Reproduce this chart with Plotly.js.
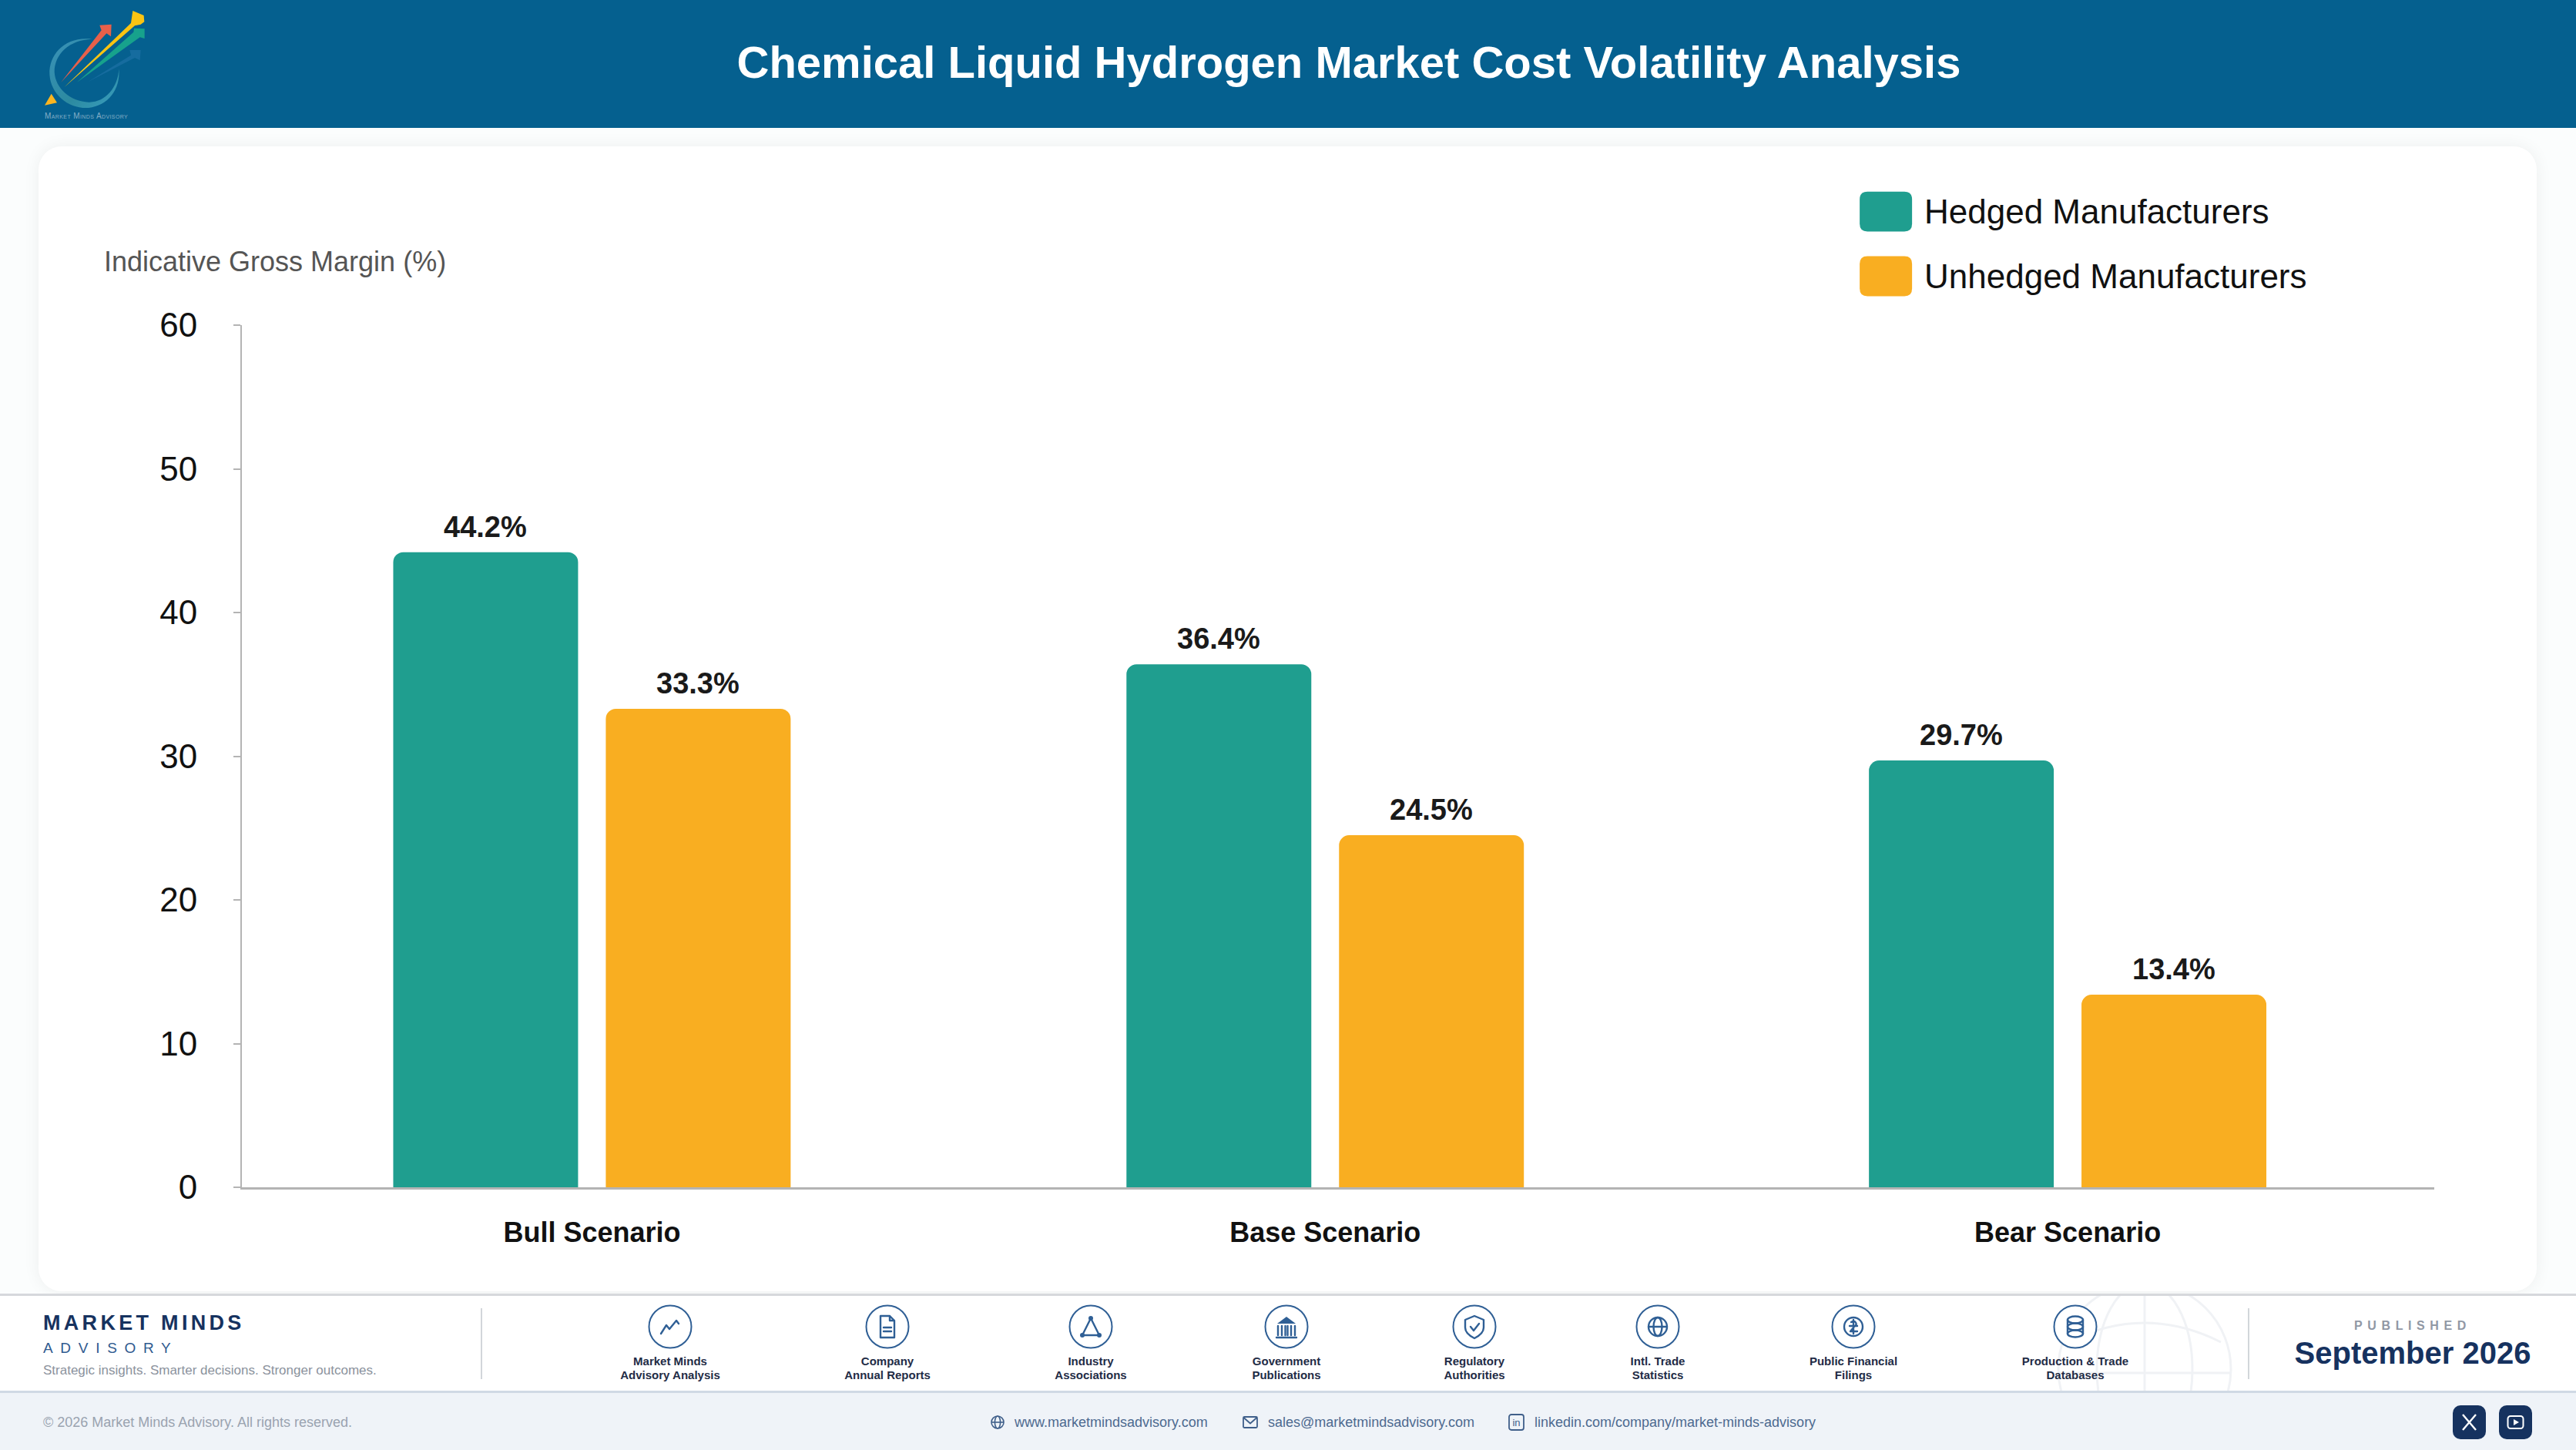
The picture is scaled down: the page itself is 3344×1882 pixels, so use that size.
<!DOCTYPE html>
<html>
<head>
<meta charset="utf-8">
<script src="https://cdn.plot.ly/plotly-3.0.1.min.js"></script>
<style>
html,body{margin:0;padding:0;width:3344px;height:1882px;overflow:hidden;background:#fbfdfd;font-family:"Liberation Sans",Arial,sans-serif;}
#page{position:relative;width:3344px;height:1882px;overflow:hidden;}
.abs{position:absolute;}
#header{left:0;top:0;width:3344px;height:166px;background:#05608f;}
#card{left:50px;top:190px;width:3243px;height:1486px;background:#fff;border-radius:30px;box-shadow:0 0 22px rgba(0,0,0,0.06);}
#footTop{left:0;top:1679px;width:3344px;height:127px;background:#fff;border-top:3px solid #d6d8dc;box-sizing:border-box;}
#footBot{left:0;top:1805px;width:3344px;height:77px;background:#eff3f8;border-top:3px solid #d0d9e4;box-sizing:border-box;}
#chart{left:0;top:0;width:3344px;height:1882px;z-index:2;}
.txt{position:absolute;white-space:nowrap;z-index:3;line-height:1;}
.ctr{transform:translateX(-50%);text-align:center;}
.vr{position:absolute;width:2px;background:#d2d6da;top:1698px;height:92px;z-index:3;}
svg.ic{position:absolute;z-index:3;overflow:visible;}
</style>
</head>
<body>
<div id="page">
  <div class="abs" id="header"></div>
  <div class="abs" id="card"></div>
  <div class="abs" id="footTop"></div>
  <div class="abs" id="footBot"></div>
  <svg style="position:absolute;left:2560px;top:1682px;z-index:1;overflow:hidden" width="450" height="123" viewBox="0 0 450 123" fill="none" stroke="#f0f2f5" stroke-width="3">
    <circle cx="224" cy="95" r="112"/><ellipse cx="224" cy="95" rx="62" ry="112"/><line x1="224" y1="-17" x2="224" y2="123"/>
    <line x1="112" y1="100" x2="336" y2="100"/><path d="M125 60 Q224 10 323 60"/>
  </svg>
  <svg class="ic" style="left:0;top:0" width="240" height="180" viewBox="0 0 720 540">
    <defs><linearGradient id="rg" x1="0" y1="0" x2="1" y2="1"><stop offset="0" stop-color="#3a92b8"/><stop offset="0.6" stop-color="#2c8aa0"/><stop offset="1" stop-color="#3a9fc0"/></linearGradient></defs>
    <path d="M358 152 C255 140 190 210 193 290 C198 370 270 425 345 420 C420 412 470 350 463 268 C460 340 410 400 345 398 C275 396 215 345 212 280 C212 210 270 155 358 152 Z" fill="url(#rg)"/>
    <polygon points="238,320 395,118 388,98 434,95 432,142 415,130" fill="#e8604a"/>
    <polygon points="250,340 510,90 517,42 560,60 562,85 548,95 525,100" fill="#fbc412"/>
    <polygon points="300,320 520,125 522,110 563,112 563,150 545,145" fill="#17a28c"/>
    <polygon points="340,320 510,215 505,195 548,195 545,235 525,225" fill="#1a6fa3" opacity="0.8"/>
    <polygon points="200,365 222,400 174,410" fill="#fbb520"/>
  </svg>
  <div class="txt" style="left:58px;top:146px;font-size:10px;color:#84aec6;font-variant:small-caps;letter-spacing:0.4px;">Market Minds Advisory</div>

  <div class="txt" style="left:56px;top:1704px;font-size:27px;font-weight:700;color:#16325f;letter-spacing:4.3px;">MARKET MINDS</div>
  <div class="txt" style="left:56px;top:1740px;font-size:19px;color:#2f5a8f;letter-spacing:9.7px;">ADVISORY</div>
  <div class="txt" style="left:56px;top:1770px;font-size:17px;color:#8b929d;">Strategic insights. Smarter decisions. Stronger outcomes.</div>
  <div class="vr" style="left:624px"></div>
  <div class="vr" style="left:2918px"></div>
  <div id="sources"></div>
  <div class="txt ctr" style="left:3132px;top:1713px;font-size:16px;font-weight:700;color:#9198a5;letter-spacing:6.6px;">PUBLISHED</div>
  <div class="txt ctr" style="left:3132px;top:1736px;font-size:40px;font-weight:700;color:#16325f;">September 2026</div>

  <div class="txt" style="left:56px;top:1837px;font-size:18px;color:#9aa3b0;">© 2026 Market Minds Advisory. All rights reserved.</div>
  <svg class="ic" style="left:1285px;top:1836px" width="20" height="20" viewBox="0 0 20 20" fill="none" stroke="#3f5f8a" stroke-width="1.6"><circle cx="10" cy="10" r="8"/><ellipse cx="10" cy="10" rx="3.6" ry="8"/><line x1="2" y1="10" x2="18" y2="10"/></svg>
  <div class="txt" style="left:1317px;top:1837px;font-size:18px;color:#4d6a90;">www.marketmindsadvisory.com</div>
  <svg class="ic" style="left:1613px;top:1837px" width="20" height="18" viewBox="0 0 20 18" fill="none" stroke="#3f5f8a" stroke-width="1.8"><rect x="1" y="2" width="18" height="14" rx="1.5"/><path d="M1.5 3 L10 10.5 L18.5 3"/></svg>
  <div class="txt" style="left:1646px;top:1837px;font-size:18px;color:#4d6a90;">sales@marketmindsadvisory.com</div>
  <svg class="ic" style="left:1958px;top:1835px" width="21" height="22" viewBox="0 0 21 22"><rect x="1" y="1" width="19" height="20" rx="3" fill="none" stroke="#3f5f8a" stroke-width="1.8"/><text x="10.5" y="16" font-size="13" font-family="Liberation Sans" text-anchor="middle" fill="#3f5f8a">in</text></svg>
  <div class="txt" style="left:1992px;top:1837px;font-size:18px;color:#4d6a90;">linkedin.com/company/market-minds-advisory</div>
  <svg class="ic" style="left:3184px;top:1824px" width="43" height="44" viewBox="0 0 43 44"><rect width="43" height="44" rx="10" fill="#16325f"/><path d="M13 12 L30 32 M30 12 L13 32" stroke="#fff" stroke-width="2.4"/></svg>
  <svg class="ic" style="left:3244px;top:1824px" width="43" height="44" viewBox="0 0 43 44"><rect width="43" height="44" rx="10" fill="#16325f"/><rect x="11.5" y="14" width="20" height="16" rx="3.5" fill="none" stroke="#fff" stroke-width="2"/><polygon points="19,18 19,26 26,22" fill="#fff"/></svg>

  <div class="abs" id="chart"></div>
</div>
<script>
// ---- data ----
var chartTitle = "Chemical Liquid Hydrogen Market Cost Volatility Analysis";
var yAxisTitle = "Indicative Gross Margin (%)";
var categories = ["Bull Scenario", "Base Scenario", "Bear Scenario"];
var seriesNames = ["Hedged Manufacturers", "Unhedged Manufacturers"];
var hedged = [44.2, 36.4, 29.7];
var unhedged = [33.3, 24.5, 13.4];
var yTickValues = [0, 10, 20, 30, 40, 50, 60];
var sourceLabels = [
  ["Market Minds", "Advisory Analysis"],
  ["Company", "Annual Reports"],
  ["Industry", "Associations"],
  ["Government", "Publications"],
  ["Regulatory", "Authorities"],
  ["Intl. Trade", "Statistics"],
  ["Public Financial", "Filings"],
  ["Production & Trade", "Databases"]
];

// ---- layout settings (scenario centres sit on a numeric axis because the spacing is uneven) ----
var W = 3344, H = 1882;
var plot = {left: 313.5, right: 3160, top: 421.5, bottom: 1541.5};
var scenarioCenters = [768, 1720, 2684];   // px on the page
var barPx = 240, gapPx = 36;
var TEAL = "#1f9e8f", ORANGE = "#f9ae21";
var FONT = '"Liberation Sans", Arial, sans-serif';
var xRange = [plot.left, plot.right];
var offsetA = -(barPx + gapPx / 2), offsetB = gapPx / 2;

// "paper" coordinates are relative to the plot area
function fx(px){ return (px - plot.left) / (plot.right - plot.left); }
function fy(py){ return (plot.bottom - py) / (plot.bottom - plot.top); }

var traces = [
  {type: "bar", name: seriesNames[0], x: scenarioCenters, y: hedged, width: barPx, offset: offsetA,
   marker: {color: TEAL, cornerradius: 13}, hoverinfo: "name+y"},
  {type: "bar", name: seriesNames[1], x: scenarioCenters, y: unhedged, width: barPx, offset: offsetB,
   marker: {color: ORANGE, cornerradius: 13}, hoverinfo: "name+y"}
];

var annotations = [];
function addLabels(vals, off){
  vals.forEach(function(v, i){
    annotations.push({xref: "x", yref: "y", x: scenarioCenters[i] + off + barPx / 2, y: v,
      text: "<b>" + v.toFixed(1) + "%</b>", showarrow: false, xanchor: "center", yanchor: "bottom", yshift: 10,
      font: {family: FONT, size: 38, color: "#1a1a1a"}});
  });
}
addLabels(hedged, offsetA);
addLabels(unhedged, offsetB);
annotations.push({xref: "paper", yref: "paper", x: fx(132), y: fy(339), xanchor: "left", yanchor: "middle",
  text: yAxisTitle, showarrow: false, font: {family: FONT, size: 36, color: "#555555"}});
var swatches = [{top: 248, color: TEAL}, {top: 332, color: ORANGE}];
var shapes = [];
swatches.forEach(function(s, i){
  var x0 = 2414, x1 = 2482, y0 = s.top, y1 = s.top + 52, r = 10;
  var P = function(px, py){ return fx(px) + "," + fy(py); };
  shapes.push({type: "path", xref: "paper", yref: "paper", fillcolor: s.color, line: {width: 0},
    path: "M" + P(x0 + r, y0) + " L" + P(x1 - r, y0) + " Q" + P(x1, y0) + " " + P(x1, y0 + r) +
          " L" + P(x1, y1 - r) + " Q" + P(x1, y1) + " " + P(x1 - r, y1) +
          " L" + P(x0 + r, y1) + " Q" + P(x0, y1) + " " + P(x0, y1 - r) +
          " L" + P(x0, y0 + r) + " Q" + P(x0, y0) + " " + P(x0 + r, y0) + " Z"});
  annotations.push({xref: "paper", yref: "paper", x: fx(2496), y: fy(s.top + 26), xanchor: "left", yanchor: "middle",
    text: seriesNames[i], showarrow: false, font: {family: FONT, size: 44, color: "#111111"}});
});

var layout = {
  width: W, height: H,
  paper_bgcolor: "rgba(0,0,0,0)", plot_bgcolor: "rgba(0,0,0,0)",
  margin: {l: plot.left, r: W - plot.right, t: plot.top, b: H - plot.bottom, pad: 0, autoexpand: false},
  title: {text: "<b>" + chartTitle + "</b>", x: 1751 / W, xanchor: "center", xref: "container",
          y: 1 - 81 / H, yanchor: "middle", yref: "container", font: {family: FONT, size: 58, color: "#ffffff"}},
  showlegend: false,
  barmode: "overlay",
  xaxis: {type: "linear", range: xRange, tickmode: "array", tickvals: scenarioCenters,
          ticktext: categories.map(function(c){ return "<b>" + c + "</b>"; }),
          ticks: "", showgrid: false, zeroline: false, showline: true, linecolor: "#b4b4b4", linewidth: 3,
          ticklabelstandoff: 25, tickfont: {family: FONT, size: 36, color: "#111111"}, fixedrange: true},
  yaxis: {range: [0, 60], tickmode: "array", tickvals: yTickValues, ticks: "outside", ticklen: 9, tickwidth: 2,
          tickcolor: "#b4b4b4", showgrid: false, zeroline: false, showline: true, linecolor: "#b4b4b4", linewidth: 2,
          ticklabelstandoff: 38, tickfont: {family: FONT, size: 44, color: "#111111"}, fixedrange: true},
  annotations: annotations,
  shapes: shapes
};

// footer source row
var sourceCenters = [870, 1152, 1416, 1670, 1914, 2152, 2406, 2694];
var S = 'fill="none" stroke="#2f5f95" stroke-width="2.4" stroke-linecap="round" stroke-linejoin="round"';
var glyphs = [
  '<path d="M-12 9 L-5 -2 L-1 3 L8 -8 L11 -4" ' + S + ' stroke-width="3"/>',
  '<path d="M-9 -14 H3 L9 -8 V14 H-9 Z M3 -14 V-8 H9 M-5 1 H5 M-5 6 H5" ' + S + '/>',
  '<path d="M0 -11 L-11 11 H11 Z" ' + S + '/><circle cx="0" cy="-11" r="3" fill="#2f5f95"/><circle cx="-11" cy="11" r="3" fill="#2f5f95"/><circle cx="11" cy="11" r="3" fill="#2f5f95"/>',
  '<path d="M0 -13 L12 -4 H-12 Z" fill="#2f5f95"/><path d="M-11 -1 V11 M-6 -1 V11 M-1.5 -1 V11 M1.5 -1 V11 M6 -1 V11 M11 -1 V11 M-13 14 H13" ' + S + '/>',
  '<path d="M0 -14 L12 -9 V1 C12 8 6 12 0 15 C-6 12 -12 8 -12 1 V-9 Z" ' + S + '/><path d="M-5 0 L-1 5 L6 -4" ' + S + '/>',
  '<circle r="12" ' + S + '/><ellipse rx="5.5" ry="12" ' + S + '/><path d="M-12 0 H12" ' + S + '/>',
  '<circle r="12" ' + S + '/><path d="M-3 -6 C3 -9 6 -3 1 0 L-4 6 H5 M-5 -1 H5 M0 -9 V9" ' + S + '/>',
  '<ellipse cy="-9" rx="10" ry="4.5" ' + S + '/><ellipse cy="0" rx="10" ry="4.5" ' + S + '/><ellipse cy="9" rx="10" ry="4.5" ' + S + '/><path d="M-10 -9 V9 M10 -9 V9" ' + S + '/>'
];
var host = document.getElementById("sources"), html = "";
sourceLabels.forEach(function(lines, i){
  var cx = sourceCenters[i];
  html += '<svg class="ic" style="left:' + (cx - 30) + 'px;top:1692px" width="60" height="60" viewBox="-30 -30 60 60">' +
          '<circle r="27.5" fill="#fff" stroke="#2f5f95" stroke-width="2"/>' + glyphs[i] + '</svg>';
  lines.forEach(function(l, j){
    html += '<div class="txt ctr" style="left:' + cx + 'px;top:' + (1759 + j * 18) + 'px;font-size:15px;font-weight:700;color:#1f2c46;">' +
            l.replace("&", "&amp;") + '</div>';
  });
});
host.innerHTML = html;

Plotly.newPlot("chart", traces, layout, {displayModeBar: false, responsive: false});
</script>
</body>
</html>
